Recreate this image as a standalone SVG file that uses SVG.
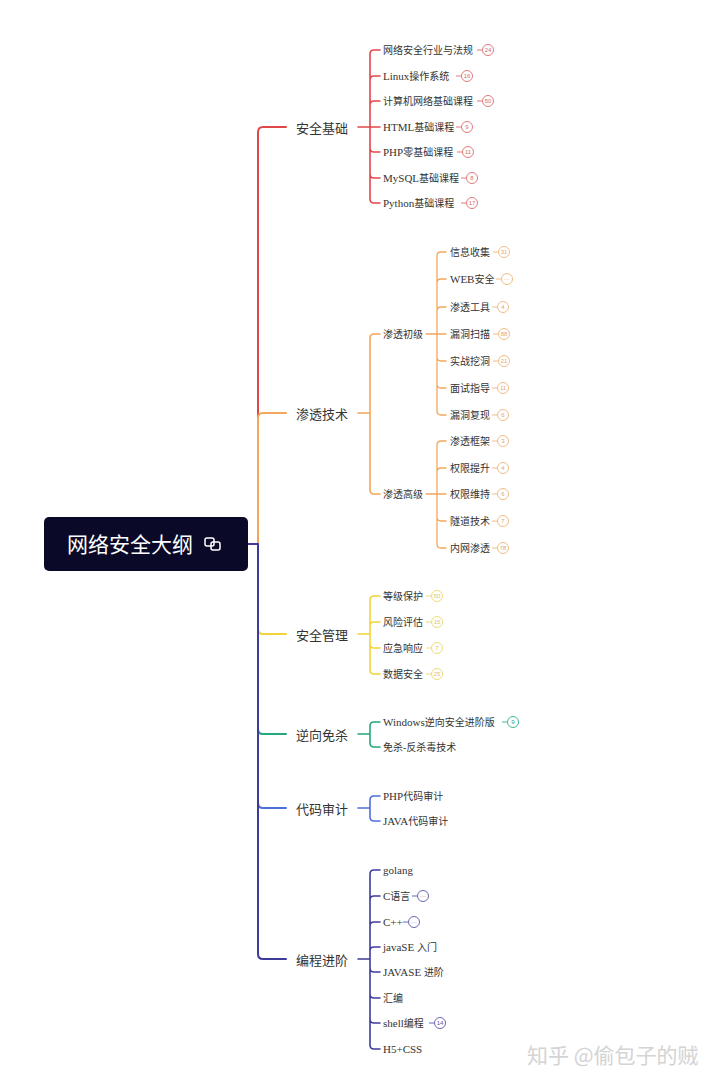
<svg xmlns="http://www.w3.org/2000/svg" width="720" height="1083" viewBox="0 0 720 1083">
<style>
.c{fill:none;stroke-linecap:round;stroke-linejoin:round}
.t1{font-family:"Noto Sans CJK SC",sans-serif;font-size:13px;fill:#333;dominant-baseline:central}
.t2{font-family:"Liberation Serif","Noto Sans CJK SC",serif;font-size:10px;fill:#333;dominant-baseline:central}
.l{font-size:11px}
.bt{font-family:"Liberation Sans",sans-serif;font-size:6px;text-anchor:middle;dominant-baseline:central}
.r{stroke:#e0474b}.o{stroke:#f2a75a}.y{stroke:#f1d43a}.g{stroke:#23a878}.b{stroke:#4d6fd8}.p{stroke:#3f3b99}
.br circle{fill:#fff;stroke-width:1}
.br line{stroke-width:1}
.rb circle,.rb line{stroke:#e27a7c}.rb text{fill:#d86a6c}
.ob circle,.ob line{stroke:#f0bd86}.ob text{fill:#e3a566}
.yb circle,.yb line{stroke:#f0dc7a}.yb text{fill:#e0c650}
.gb circle,.gb line{stroke:#43b98d}.gb text{fill:#2aa578}
.pb circle,.pb line{stroke:#6b67b3}.pb text{fill:#5b57a8}
</style>
<rect width="720" height="1083" fill="#fff"/>
<g id="connectors">
<path class="c r" stroke-width="2" d="M248,544 H258 V132 Q258,127 263,127 H286"/>
<path class="c o" stroke-width="2" d="M248,544 H258 V418 Q258,413 263,413 H286"/>
<path class="c y" stroke-width="2" d="M248,544 H258 V629 Q258,634 263,634 H286"/>
<path class="c g" stroke-width="2" d="M248,544 H258 V729 Q258,734 263,734 H286"/>
<path class="c b" stroke-width="2" d="M248,544 H258 V803 Q258,808 263,808 H286"/>
<path class="c p" stroke-width="2" d="M248,544 H258 V954 Q258,959 263,959 H286"/>
<path class="c r" stroke-width="1.6" d="M358,127 H380 M370,127 V54 Q370,50 374,50 H380 M370,127 V80 Q370,76 374,76 H380 M370,127 V105 Q370,101 374,101 H380 M370,127 V148 Q370,152 374,152 H380 M370,127 V174 Q370,178 374,178 H380 M370,127 V199 Q370,203 374,203 H380"/>
<path class="c o" stroke-width="1.6" d="M358,413 H370 M370,413 V338 Q370,334 374,334 H380 M370,413 V490 Q370,494 374,494 H380"/>
<path class="c o" stroke-width="1.3" d="M426,334 H446 M437,334 V256 Q437,252 441,252 H446 M437,334 V283 Q437,279 441,279 H446 M437,334 V311 Q437,307 441,307 H446 M437,334 V357 Q437,361 441,361 H446 M437,334 V384 Q437,388 441,388 H446 M437,334 V411 Q437,415 441,415 H446"/>
<path class="c o" stroke-width="1.3" d="M426,494 H446 M437,494 V445 Q437,441 441,441 H446 M437,494 V472 Q437,468 441,468 H446 M437,494 V517 Q437,521 441,521 H446 M437,494 V544 Q437,548 441,548 H446"/>
<path class="c y" stroke-width="1.6" d="M358,634 H370 M370,634 V600 Q370,596 374,596 H380 M370,634 V626 Q370,622 374,622 H380 M370,634 V644 Q370,648 374,648 H380 M370,634 V670 Q370,674 374,674 H380"/>
<path class="c g" stroke-width="1.6" d="M358,734 H370 M370,734 V726 Q370,722 374,722 H380 M370,734 V743 Q370,747 374,747 H380"/>
<path class="c b" stroke-width="1.6" d="M358,808 H370 M370,808 V800 Q370,796 374,796 H380 M370,808 V817 Q370,821 374,821 H380"/>
<path class="c p" stroke-width="1.6" d="M358,959 H370 M370,959 V874 Q370,870 374,870 H380 M370,959 V900 Q370,896 374,896 H380 M370,959 V926 Q370,922 374,922 H380 M370,959 V951 Q370,947 374,947 H380 M370,959 V968 Q370,972 374,972 H380 M370,959 V994 Q370,998 374,998 H380 M370,959 V1019 Q370,1023 374,1023 H380 M370,959 V1045 Q370,1049 374,1049 H380"/>
</g>
<g id="root">
<rect x="44" y="517" width="204" height="54" rx="5" fill="#0a0a28"/>
<text x="67" y="543" font-family="Noto Sans CJK SC,sans-serif" font-size="21" fill="#fff" dominant-baseline="central">网络安全大纲</text>
<g fill="none" stroke="#fff" stroke-width="1.5"><rect x="205" y="538" width="9" height="8" rx="2"/><rect x="211" y="542" width="9" height="8" rx="2"/></g>
</g>
<g id="n-anquanjichu"><text class="t1" x="296" y="127">安全基础</text></g>
<g id="n-shentoujishu"><text class="t1" x="296" y="413">渗透技术</text></g>
<g id="n-anquanguanli"><text class="t1" x="296" y="634">安全管理</text></g>
<g id="n-nixiangmiansha"><text class="t1" x="296" y="734">逆向免杀</text></g>
<g id="n-daimashenji"><text class="t1" x="296" y="808">代码审计</text></g>
<g id="n-bianchengjinjie"><text class="t1" x="296" y="959">编程进阶</text></g>
<g id="red-items">
<g id="r1"><text class="t2" x="383" y="50">网络安全行业与法规</text><g class="br rb"><line x1="477" y1="50" x2="482" y2="50"/><circle cx="488" cy="50" r="5.5"/><text class="bt" x="488" y="50">24</text></g></g>
<g id="r2"><text class="t2" x="383" y="76"><tspan class="l">Linux</tspan>操作系统</text><g class="br rb"><line x1="456" y1="76" x2="461" y2="76"/><circle cx="467" cy="76" r="5.5"/><text class="bt" x="467" y="76">16</text></g></g>
<g id="r3"><text class="t2" x="383" y="101">计算机网络基础课程</text><g class="br rb"><line x1="477" y1="101" x2="482" y2="101"/><circle cx="488" cy="101" r="5.5"/><text class="bt" x="488" y="101">50</text></g></g>
<g id="r4"><text class="t2" x="383" y="127"><tspan class="l">HTML</tspan>基础课程</text><g class="br rb"><line x1="456" y1="127" x2="461" y2="127"/><circle cx="467" cy="127" r="5.5"/><text class="bt" x="467" y="127">9</text></g></g>
<g id="r5"><text class="t2" x="383" y="152"><tspan class="l">PHP</tspan>零基础课程</text><g class="br rb"><line x1="457" y1="152" x2="462" y2="152"/><circle cx="468" cy="152" r="5.5"/><text class="bt" x="468" y="152">11</text></g></g>
<g id="r6"><text class="t2" x="383" y="178"><tspan class="l">MySQL</tspan>基础课程</text><g class="br rb"><line x1="461" y1="178" x2="466" y2="178"/><circle cx="472" cy="178" r="5.5"/><text class="bt" x="472" y="178">8</text></g></g>
<g id="r7"><text class="t2" x="383" y="203"><tspan class="l">Python</tspan>基础课程</text><g class="br rb"><line x1="461" y1="203" x2="466" y2="203"/><circle cx="472" cy="203" r="5.5"/><text class="bt" x="472" y="203">17</text></g></g>
</g>
<g id="n-chuji"><text class="t2" x="383" y="334">渗透初级</text></g>
<g id="n-gaoji"><text class="t2" x="383" y="494">渗透高级</text></g>
<g id="orange-items">
<g id="o1"><text class="t2" x="450" y="252">信息收集</text><g class="br ob"><line x1="493" y1="252" x2="498" y2="252"/><circle cx="504" cy="252" r="5.5"/><text class="bt" x="504" y="252">31</text></g></g>
<g id="o2"><text class="t2" x="450" y="279"><tspan class="l">WEB</tspan>安全</text><g class="br ob"><line x1="496" y1="279" x2="501" y2="279"/><circle cx="507" cy="279" r="5.5"/><text class="bt" x="507" y="279">···</text></g></g>
<g id="o3"><text class="t2" x="450" y="307">渗透工具</text><g class="br ob"><line x1="492" y1="307" x2="497" y2="307"/><circle cx="503" cy="307" r="5.5"/><text class="bt" x="503" y="307">4</text></g></g>
<g id="o4"><text class="t2" x="450" y="334">漏洞扫描</text><g class="br ob"><line x1="493" y1="334" x2="498" y2="334"/><circle cx="504" cy="334" r="5.5"/><text class="bt" x="504" y="334">88</text></g></g>
<g id="o5"><text class="t2" x="450" y="361">实战挖洞</text><g class="br ob"><line x1="493" y1="361" x2="498" y2="361"/><circle cx="504" cy="361" r="5.5"/><text class="bt" x="504" y="361">21</text></g></g>
<g id="o6"><text class="t2" x="450" y="388">面试指导</text><g class="br ob"><line x1="492" y1="388" x2="497" y2="388"/><circle cx="503" cy="388" r="5.5"/><text class="bt" x="503" y="388">11</text></g></g>
<g id="o7"><text class="t2" x="450" y="415">漏洞复现</text><g class="br ob"><line x1="492" y1="415" x2="497" y2="415"/><circle cx="503" cy="415" r="5.5"/><text class="bt" x="503" y="415">6</text></g></g>
<g id="o8"><text class="t2" x="450" y="441">渗透框架</text><g class="br ob"><line x1="492" y1="441" x2="497" y2="441"/><circle cx="503" cy="441" r="5.5"/><text class="bt" x="503" y="441">3</text></g></g>
<g id="o9"><text class="t2" x="450" y="468">权限提升</text><g class="br ob"><line x1="492" y1="468" x2="497" y2="468"/><circle cx="503" cy="468" r="5.5"/><text class="bt" x="503" y="468">4</text></g></g>
<g id="o10"><text class="t2" x="450" y="494">权限维持</text><g class="br ob"><line x1="492" y1="494" x2="497" y2="494"/><circle cx="503" cy="494" r="5.5"/><text class="bt" x="503" y="494">6</text></g></g>
<g id="o11"><text class="t2" x="450" y="521">隧道技术</text><g class="br ob"><line x1="492" y1="521" x2="497" y2="521"/><circle cx="503" cy="521" r="5.5"/><text class="bt" x="503" y="521">7</text></g></g>
<g id="o12"><text class="t2" x="450" y="548">内网渗透</text><g class="br ob"><line x1="492" y1="548" x2="497" y2="548"/><circle cx="503" cy="548" r="5.5"/><text class="bt" x="503" y="548">78</text></g></g>
</g>
<g id="yellow-items">
<g id="y1"><text class="t2" x="383" y="596">等级保护</text><g class="br yb"><line x1="426" y1="596" x2="431" y2="596"/><circle cx="437" cy="596" r="5.5"/><text class="bt" x="437" y="596">50</text></g></g>
<g id="y2"><text class="t2" x="383" y="622">风险评估</text><g class="br yb"><line x1="426" y1="622" x2="431" y2="622"/><circle cx="437" cy="622" r="5.5"/><text class="bt" x="437" y="622">15</text></g></g>
<g id="y3"><text class="t2" x="383" y="648">应急响应</text><g class="br yb"><line x1="426" y1="648" x2="431" y2="648"/><circle cx="437" cy="648" r="5.5"/><text class="bt" x="437" y="648">7</text></g></g>
<g id="y4"><text class="t2" x="383" y="674">数据安全</text><g class="br yb"><line x1="426" y1="674" x2="431" y2="674"/><circle cx="437" cy="674" r="5.5"/><text class="bt" x="437" y="674">25</text></g></g>
</g>
<g id="green-items">
<g id="g1"><text class="t2" x="383" y="722"><tspan class="l">Windows</tspan>逆向安全进阶版</text><g class="br gb"><line x1="502" y1="722" x2="507" y2="722"/><circle cx="513" cy="722" r="5.5"/><text class="bt" x="513" y="722">9</text></g></g>
<g id="g2"><text class="t2" x="383" y="747">免杀-反杀毒技术</text></g>
</g>
<g id="blue-items">
<g id="b1"><text class="t2" x="383" y="796"><tspan class="l">PHP</tspan>代码审计</text></g>
<g id="b2"><text class="t2" x="383" y="821"><tspan class="l">JAVA</tspan>代码审计</text></g>
</g>
<g id="purple-items">
<g id="p1"><text class="t2" x="383" y="870"><tspan class="l">golang</tspan></text></g>
<g id="p2"><text class="t2" x="383" y="896"><tspan class="l">C</tspan>语言</text><g class="br pb"><line x1="412" y1="896" x2="417" y2="896"/><circle cx="423" cy="896" r="5.5"/><text class="bt" x="423" y="896">···</text></g></g>
<g id="p3"><text class="t2" x="383" y="922"><tspan class="l">C++</tspan></text><g class="br pb"><line x1="403" y1="922" x2="408" y2="922"/><circle cx="414" cy="922" r="5.5"/><text class="bt" x="414" y="922">···</text></g></g>
<g id="p4"><text class="t2" x="383" y="947"><tspan class="l">javaSE </tspan>入门</text></g>
<g id="p5"><text class="t2" x="383" y="972"><tspan class="l">JAVASE </tspan>进阶</text></g>
<g id="p6"><text class="t2" x="383" y="998">汇编</text></g>
<g id="p7"><text class="t2" x="383" y="1023"><tspan class="l">shell</tspan>编程</text><g class="br pb"><line x1="429" y1="1023" x2="434" y2="1023"/><circle cx="440" cy="1023" r="5.5"/><text class="bt" x="440" y="1023">14</text></g></g>
<g id="p8"><text class="t2" x="383" y="1049"><tspan class="l">H5+CSS</tspan></text></g>
</g>
<text x="527" y="1054" font-family="Noto Sans CJK SC,sans-serif" font-size="21" fill="#d4d4d4" dominant-baseline="central">知乎 @偷包子的贼</text>
</svg>
